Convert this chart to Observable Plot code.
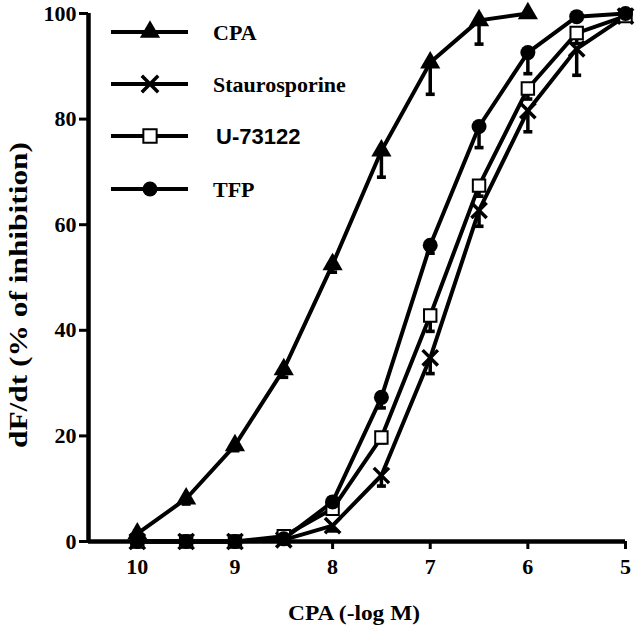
<!DOCTYPE html>
<html><head><meta charset="utf-8">
<script src="https://cdn.jsdelivr.net/npm/d3@7"></script>
<script src="https://cdn.jsdelivr.net/npm/@observablehq/plot@0.6"></script>
<style>
html,body{margin:0;padding:0;background:#fff;}
#wrap{position:relative;width:640px;height:632px;}
#overlay{position:absolute;left:0;top:0;pointer-events:none;}
</style></head><body><div id="wrap"></div>
<script>
// ---- data ----
const conc = [10, 9.5, 9, 8.5, 8, 7.5, 7, 6.5, 6, 5.5, 5];   // -log M
const seriesNames = ["CPA", "Staurosporine", "U-73122", "TFP"];
const cpaValues  = [1.5, 8.1, 18.2, 32.6, 52.5, 74.0, 90.7, 98.7, 100];
const stauValues = [0, 0, 0, 0.3, 3.0, 12.5, 34.8, 62.7, 81.6, 93.3, 99.5];
const u73Values  = [0, 0, 0, 1.0, 6.2, 19.7, 42.8, 67.4, 85.8, 96.3, 99.5];
const tfpValues  = [0, 0, 0, 0.5, 7.5, 27.3, 56.1, 78.6, 92.6, 99.4, 100];
// downward error bars (SEM)
const cpaErr  = [0, 1, 1, 1.5, 1.5, 5, 6, 4.5, 0];
const stauErr = [0, 0, 0, 0, 1, 2, 3, 3, 4, 5, 0];
const u73Err  = [0, 0, 0, 0, 1, 1, 3, 2, 2, 2, 0];
const tfpErr  = [0, 0, 0, 0, 1, 2, 1.5, 4, 4, 0, 0];
const xTicks = [10, 9, 8, 7, 6, 5];
const yTicks = [0, 20, 40, 60, 80, 100];

const valuesBy = {"CPA": cpaValues, "Staurosporine": stauValues, "U-73122": u73Values, "TFP": tfpValues};
const errBy = {"CPA": cpaErr, "Staurosporine": stauErr, "U-73122": u73Err, "TFP": tfpErr};
const symbolBy = {"CPA": "triangle", "Staurosporine": "times", "U-73122": "square", "TFP": "circle"};

const rows = [];
for (const s of seriesNames) {
  valuesBy[s].forEach((v, i) => rows.push({series: s, x: conc[i], y: v, lo: v - errBy[s][i], err: errBy[s][i]}));
}
const errRows = rows.filter(d => d.err > 0);

const capSymbol = {draw(ctx) { ctx.rect(-4.5, -1.8, 9, 3.6); }};

const font = "Liberation Serif, Times New Roman, serif";
const chart = Plot.plot({
  width: 640, height: 632,
  marginLeft: 88, marginRight: 15, marginTop: 13, marginBottom: 91,
  style: {fontFamily: font, fontSize: "22px", fontWeight: "bold", background: "white", color: "black"},
  x: {domain: [10.5, 5]},
  y: {domain: [0, 100]},
  marks: [
    Plot.axisX({ticks: xTicks, tickFormat: d3.format("d"), tickSize: 8, tickPadding: 9, strokeWidth: 3, label: null, fontSize: 22}),
    Plot.axisY({ticks: yTicks, tickFormat: d3.format("d"), tickSize: 9, tickPadding: 3, strokeWidth: 3, label: null, fontSize: 22}),
    Plot.ruleY([0], {x1: 10.5, x2: 5, strokeWidth: 4.5}),
    Plot.ruleX([10.5], {y1: 0, y2: 100, strokeWidth: 4.5}),
    Plot.ruleX(errRows, {x: "x", y1: "y", y2: "lo", strokeWidth: 3.5}),
    Plot.dot(errRows, {x: "x", y: "lo", symbol: () => capSymbol, fill: "black", stroke: "none", r: 4}),
    Plot.line(rows, {x: "x", y: "y", z: "series", stroke: "black", strokeWidth: 4}),
    Plot.dot(rows.filter(d => d.series === "Staurosporine"), {x: "x", y: "y", symbol: "times", r: 7, stroke: "black", strokeWidth: 3.5}),
    Plot.dot(rows.filter(d => d.series === "U-73122"), {x: "x", y: "y", symbol: "square", r: 7, fill: "white", stroke: "black", strokeWidth: 2}),
    Plot.dot(rows.filter(d => d.series === "TFP"), {x: "x", y: "y", symbol: "circle", r: 7.5, fill: "black"}),
    Plot.dot(rows.filter(d => d.series === "CPA"), {x: "x", y: "y", symbol: "triangle", r: 7.5, fill: "black"})
  ]
});
const wrap = document.getElementById("wrap");
wrap.appendChild(chart);

// overlay: legend and axis titles
const ov = d3.select(wrap).append("svg").attr("id", "overlay").attr("width", 640).attr("height", 632)
  .style("font-family", font).style("font-weight", "bold");
const legY = [32, 84, 136, 189];
seriesNames.forEach((s, i) => {
  const g = ov.append("g").attr("transform", `translate(0,${legY[i]})`);
  g.append("line").attr("x1", 111).attr("x2", 188).attr("stroke", "black").attr("stroke-width", 4);
  const sym = d3.symbol().type({triangle: d3.symbolTriangle, times: d3.symbolTimes, square: d3.symbolSquare, circle: d3.symbolCircle}[symbolBy[s]]).size(Math.PI * 7.5 * 7.5)();
  const p = g.append("path").attr("d", sym).attr("transform", "translate(150,0)");
  if (symbolBy[s] === "times") p.attr("fill", "none").attr("stroke", "black").attr("stroke-width", 3.5);
  else if (symbolBy[s] === "square") p.attr("fill", "white").attr("stroke", "black").attr("stroke-width", 2);
  else p.attr("fill", "black");
  g.append("text").attr("x", s === "U-73122" ? 216 : 213).attr("dy", "0.35em")
    .style("font-size", "22px")
    .style("font-family", s === "U-73122" ? "Liberation Sans, Arial, sans-serif" : font)
    .text(s);
});
ov.append("text").attr("transform", "translate(18,295) rotate(-90)").attr("text-anchor", "middle").attr("dy", "0.35em")
  .attr("textLength", 306).attr("lengthAdjust", "spacingAndGlyphs")
  .style("font-size", "26px").text("dF/dt (% of inhibition)");
ov.append("text").attr("x", 354).attr("y", 612).attr("text-anchor", "middle").attr("dy", "0.35em")
  .attr("textLength", 132).attr("lengthAdjust", "spacingAndGlyphs")
  .style("font-size", "22px").text("CPA (-log M)");
</script></body></html>
